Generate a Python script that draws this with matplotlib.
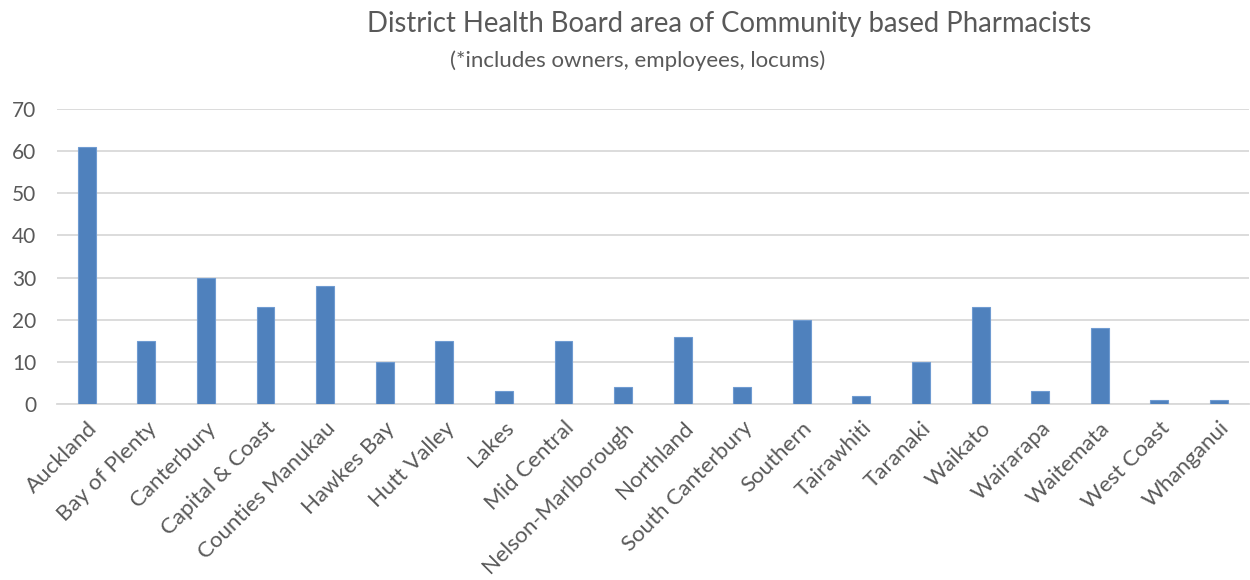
import matplotlib
matplotlib.use("Agg")
import matplotlib.pyplot as plt

categories = ["Auckland", "Bay of Plenty", "Canterbury", "Capital & Coast", "Counties Manukau",
              "Hawkes Bay", "Hutt Valley", "Lakes", "Mid Central", "Nelson-Marlborough",
              "Northland", "South Canterbury", "Southern", "Tairawhiti", "Taranaki",
              "Waikato", "Wairarapa", "Waitemata", "West Coast", "Whanganui"]
values = [61, 15, 30, 23, 28, 10, 15, 3, 15, 4, 16, 4, 20, 2, 10, 23, 3, 18, 1, 1]
yticks = [0, 10, 20, 30, 40, 50, 60, 70]

plt.rcParams['font.family'] = ['Lato', 'DejaVu Sans']
txt = '#595959'

fig = plt.figure(figsize=(12.5, 5.8), dpi=100)
ax = fig.add_axes([0.0456, 0.3034, 0.9534, 0.5086])
x = list(range(len(categories)))
ax.bar(x, values, width=0.3, color='#4f81bd', edgecolor='#6f9bd1', linewidth=0.8, zorder=3)
ax.set_xlim(-0.5, len(categories) - 0.5)
ax.set_ylim(0, 70)
ax.set_yticks(yticks)
ax.set_yticklabels([str(v) for v in yticks], color=txt, fontsize=15)
ax.set_xticks(x)
ax.set_xticklabels(categories, rotation=45, ha='right', rotation_mode='anchor', color=txt, fontsize=16)
ax.grid(axis='y', color='#d9d9d9', linewidth=1.3, zorder=0)
for s in ['top', 'right', 'left']:
    ax.spines[s].set_visible(False)
ax.spines['bottom'].set_color('#d9d9d9')
ax.spines['bottom'].set_linewidth(1.3)
ax.tick_params(axis='y', length=0, pad=15)
ax.tick_params(axis='x', length=0, pad=10)

fig.text(0.583, 0.958, "District Health Board area of Community based Pharmacists",
         ha='center', va='center', fontsize=19.8, color=txt)
fig.text(0.51, 0.895, "(*includes owners, employees, locums)",
         ha='center', va='center', fontsize=16, color=txt)

fig.savefig("out.png", dpi=100)
